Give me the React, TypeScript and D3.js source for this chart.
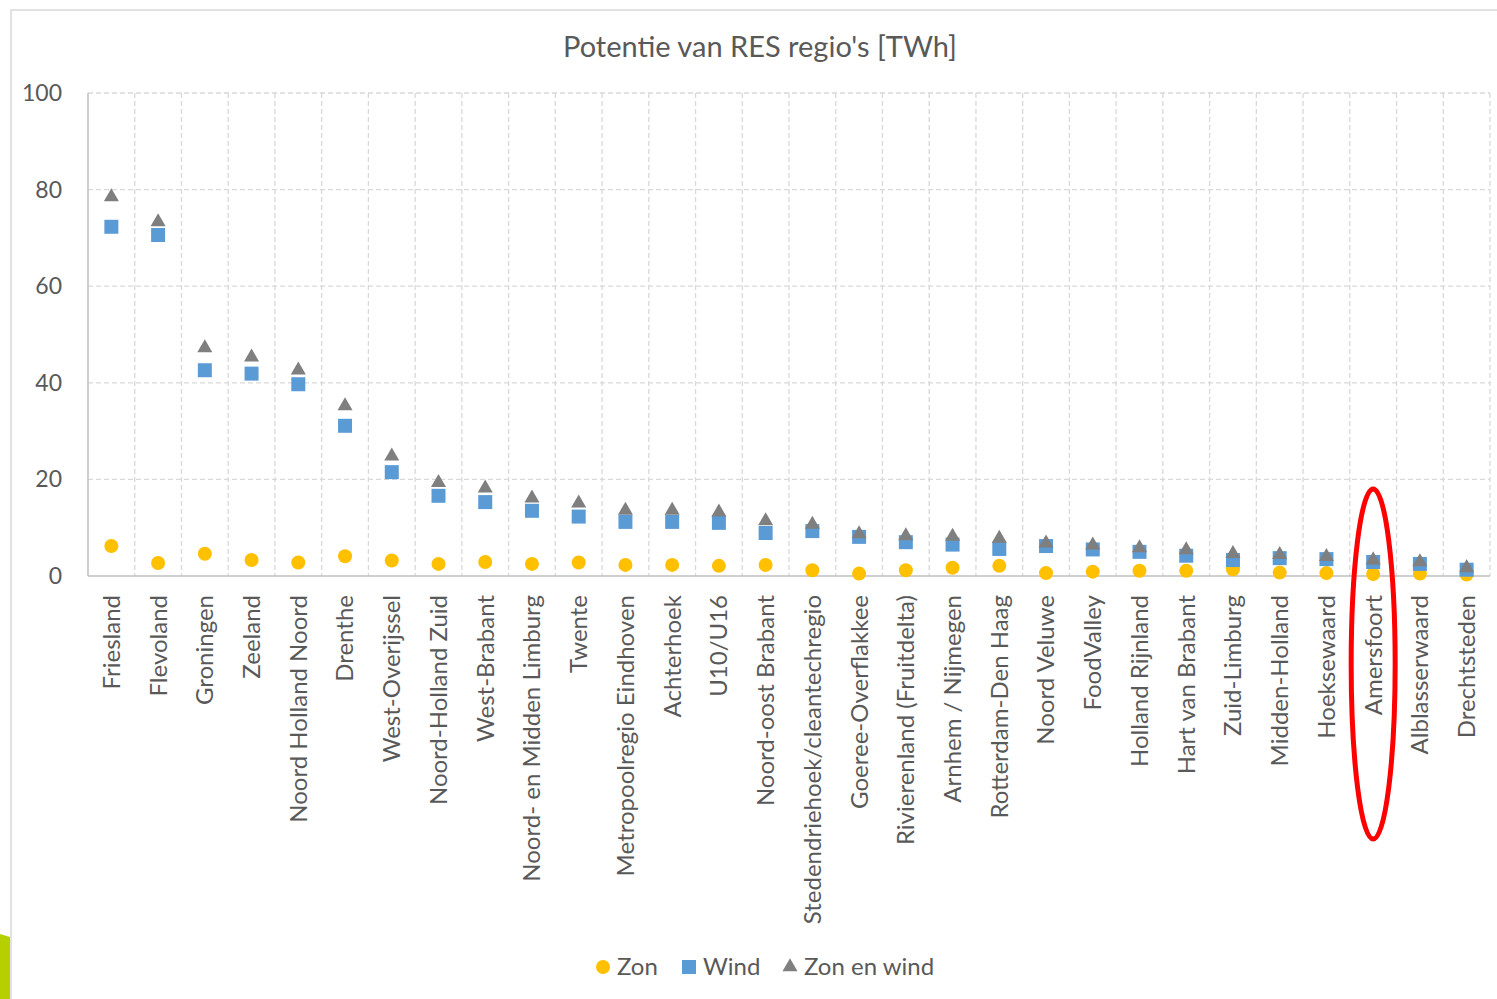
import React from 'react';
import * as d3 from 'd3';

// regio's, gesorteerd op totale potentie
const regions = [
  'Friesland', 'Flevoland', 'Groningen', 'Zeeland', 'Noord Holland Noord', 'Drenthe',
  'West-Overijssel', 'Noord-Holland Zuid', 'West-Brabant', 'Noord- en Midden Limburg',
  'Twente', 'Metropoolregio Eindhoven', 'Achterhoek', 'U10/U16', 'Noord-oost Brabant',
  'Stedendriehoek/cleantechregio', 'Goeree-Overflakkee', 'Rivierenland (Fruitdelta)',
  'Arnhem / Nijmegen', 'Rotterdam-Den Haag', 'Noord Veluwe', 'FoodValley', 'Holland Rijnland',
  'Hart van Brabant', 'Zuid-Limburg', 'Midden-Holland', 'Hoeksewaard', 'Amersfoort',
  'Alblasserwaard', 'Drechtsteden',
];

const zon = [6.2, 2.7, 4.6, 3.3, 2.8, 4.1, 3.2, 2.5, 2.9, 2.5, 2.8, 2.3, 2.3, 2.1, 2.3, 1.2, 0.5, 1.2, 1.7, 2.1, 0.6, 0.9, 1.1, 1.1, 1.4, 0.7, 0.6, 0.4, 0.5, 0.3];
const wind = [72.3, 70.6, 42.6, 41.9, 39.7, 31.1, 21.5, 16.6, 15.3, 13.5, 12.3, 11.2, 11.2, 11.0, 8.9, 9.3, 8.1, 7.0, 6.5, 5.6, 6.2, 5.5, 5.0, 4.2, 3.3, 3.7, 3.5, 2.9, 2.5, 1.3];
const zonEnWind = [78.5, 73.3, 47.2, 45.3, 42.6, 35.2, 24.8, 19.3, 18.2, 16.1, 15.1, 13.6, 13.6, 13.2, 11.4, 10.7, 8.7, 8.3, 8.2, 7.8, 6.8, 6.4, 5.8, 5.4, 4.6, 4.4, 4.0, 3.3, 2.9, 1.7];

const yTicks = [0, 20, 40, 60, 80, 100];
const highlighted = 'Amersfoort';

const W = 1497;
const H = 999;
const FONT = 'Lato, "Open Sans", sans-serif';
const TEXT = '#595959';
const GRID = '#d9d9d9';

const COL_ZON = '#FFC000';
const COL_WIND = '#5B9BD5';
const COL_TOT = '#7F7F7F';

export default function App() {
  const x = d3.scaleBand<string>().domain(regions).range([88, 1490]).padding(0);
  const y = d3.scaleLinear().domain([0, 100]).range([576, 93]);
  const cx = (r: string) => (x(r) ?? 0) + x.bandwidth() / 2;

  const circle = d3.symbol(d3.symbolCircle, Math.PI * 7 * 7)()!;
  const square = d3.symbol(d3.symbolSquare, 14 * 14)()!;
  const triangle = d3.symbol(d3.symbolTriangle, 98)()!;

  const legend = [
    { label: 'Zon', path: circle, color: COL_ZON, x: 603 },
    { label: 'Wind', path: square, color: COL_WIND, x: 689 },
    { label: 'Zon en wind', path: triangle, color: COL_TOT, x: 790 },
  ];

  const hx = cx(highlighted);

  return (
    <svg width={W} height={H} style={{ position: 'absolute', left: 0, top: 0, background: '#fff' }}>
      {/* stukje dia-achtergrond links onder */}
      <path d="M0,934 L10,937 L10,999 L0,999 Z" fill="#b5cf00" />
      <rect x={11} y={10} width={W} height={H} fill="#fff" stroke={GRID} strokeWidth={1.5} />

      <text x={760} y={57} textAnchor="middle" fontFamily={FONT} fontSize={29} fill={TEXT}>
        Potentie van RES regio's [TWh]
      </text>

      {/* horizontale rasterlijnen */}
      {yTicks.filter(t => t > 0).map(t => (
        <line key={'h' + t} x1={88} x2={1490} y1={y(t)} y2={y(t)} stroke={GRID} strokeWidth={1.3} strokeDasharray="5,3" />
      ))}
      {/* verticale rasterlijnen */}
      {regions.map((r, i) => (
        <line key={'v' + i} x1={(x(r) ?? 0) + x.bandwidth()} x2={(x(r) ?? 0) + x.bandwidth()} y1={y(100)} y2={y(0)}
          stroke={GRID} strokeWidth={1.3} strokeDasharray="5,3" />
      ))}
      {/* assen */}
      <line x1={88} x2={88} y1={y(100)} y2={y(0)} stroke="#bfbfbf" strokeWidth={1.5} />
      <line x1={88} x2={1490} y1={y(0)} y2={y(0)} stroke="#bfbfbf" strokeWidth={1.5} />

      {yTicks.map(t => (
        <text key={'yt' + t} x={62} y={y(t)} dy="0.35em" textAnchor="end" fontFamily={FONT} fontSize={23} fill={TEXT}>
          {t}
        </text>
      ))}

      {regions.map(r => (
        <text key={'xl' + r} transform={`translate(${cx(r)},595) rotate(-90)`} dy="0.35em" textAnchor="end"
          fontFamily={FONT} fontSize={24} fill={TEXT}>
          {r}
        </text>
      ))}

      {/* markers */}
      {regions.map((r, i) => (
        <path key={'z' + i} d={circle} transform={`translate(${cx(r)},${y(zon[i])})`} fill={COL_ZON} />
      ))}
      {regions.map((r, i) => (
        <path key={'w' + i} d={square} transform={`translate(${cx(r)},${y(wind[i])})`} fill={COL_WIND} />
      ))}
      {regions.map((r, i) => (
        <path key={'t' + i} d={triangle} transform={`translate(${cx(r)},${y(zonEnWind[i])})`} fill={COL_TOT} />
      ))}

      {/* legenda */}
      {legend.map(l => (
        <g key={l.label}>
          <path d={l.path} transform={`translate(${l.x},967)`} fill={l.color} />
          <text x={l.x + 14} y={967} dy="0.35em" fontFamily={FONT} fontSize={24} fill={TEXT}>{l.label}</text>
        </g>
      ))}

      {/* markering Amersfoort */}
      <ellipse cx={hx} cy={664} rx={22} ry={175} fill="none" stroke="#FF0000" strokeWidth={5} />
    </svg>
  );
}
